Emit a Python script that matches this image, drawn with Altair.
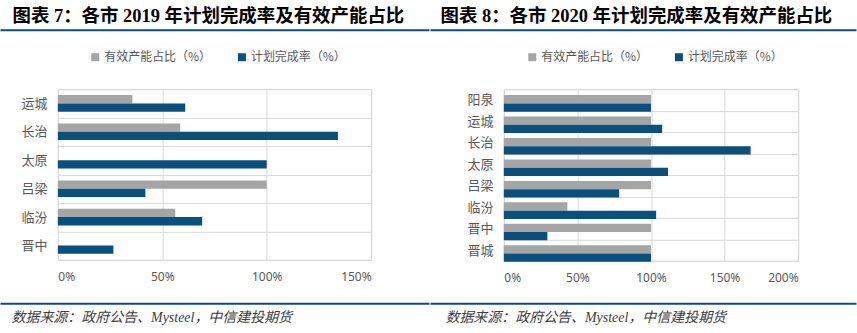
import altair as alt
import pandas as pd

# ---------------- data ----------------
SERIES = ["有效产能占比（%）", "计划完成率（%）"]
SERIES_COLORS = ["#A5A5A5", "#0B4F7C"]

cities_2019 = ["运城", "长治", "太原", "吕梁", "临汾", "晋中"]
capacity_2019 = [35.7, 58.6, 0, 100, 56.2, 0]
completion_2019 = [61.0, 134.1, 100, 41.9, 69.1, 26.6]
ticks_2019 = [0, 50, 100, 150]

cities_2020 = ["阳泉", "运城", "长治", "太原", "吕梁", "临汾", "晋中", "晋城"]
capacity_2020 = [100, 100, 100, 100, 100, 43.2, 100, 100]
completion_2020 = [100, 107.6, 167.7, 111.6, 78.4, 103.5, 29.6, 100]
ticks_2020 = [0, 50, 100, 150, 200]

title_2019 = "图表 7：各市 2019 年计划完成率及有效产能占比"
title_2020 = "图表 8：各市 2020 年计划完成率及有效产能占比"
source_text = "数据来源：政府公告、Mysteel，中信建投期货"

LINE_COLOR = "#0B4F7C"
GRID = "#D9D9D9"
LABEL = "#595959"
CJK = "Noto Sans CJK SC"


def make_panel(cities, capacity, completion, ticks, title, w, h,
               off_pad, ox, span, legend_x, title_x, source_x):
    rows = []
    for c, a, b in zip(cities, capacity, completion):
        rows.append({"city": c, "series": SERIES[0], "value": a})
        rows.append({"city": c, "series": SERIES[1], "value": b})
    df = pd.DataFrame(rows)

    bars = alt.Chart(df).mark_bar().encode(
        y=alt.Y("city:N", sort=cities,
                scale=alt.Scale(paddingInner=0, paddingOuter=0),
                axis=alt.Axis(title=None, grid=True, tickBand="extent",
                              ticks=False, domain=False, gridColor=GRID,
                              labelFont=CJK, labelFontSize=13,
                              labelColor=LABEL, labelPadding=11)),
        x=alt.X("value:Q",
                scale=alt.Scale(domain=[0, ticks[-1]], nice=False),
                axis=alt.Axis(title=None, values=ticks,
                              labelExpr="datum.value + '%'",
                              ticks=False, domain=False, gridColor=GRID,
                              labelFont="Noto Sans", labelFontSize=12,
                              labelColor=LABEL, labelPadding=12)),
        yOffset=alt.YOffset("series:N", sort=SERIES,
                            scale=alt.Scale(paddingInner=0,
                                            paddingOuter=off_pad)),
        color=alt.Color("series:N", sort=SERIES,
                        scale=alt.Scale(domain=SERIES, range=SERIES_COLORS),
                        legend=alt.Legend(orient="none", direction="horizontal",
                                          legendX=legend_x, legendY=-38,
                                          title=None, symbolType="square",
                                          symbolSize=64, symbolStrokeWidth=0,
                                          labelFont=CJK, labelFontSize=12,
                                          labelColor=LABEL, labelOffset=3,
                                          columnPadding=24)),
    )

    title_df = pd.DataFrame({"t": [title]})
    title_mark = alt.Chart(title_df).mark_text(
        align="left", baseline="top", fontSize=18.5, fontWeight="bold",
        font="'Liberation Serif', 'Noto Sans CJK SC'", color="#000000"
    ).encode(text="t:N", x=alt.value(title_x), y=alt.value(-82))

    src_df = pd.DataFrame({"t": [source_text]})
    src_mark = alt.Chart(src_df).mark_text(
        align="left", baseline="middle", fontSize=14, fontStyle="italic",
        font="'Liberation Serif', 'Noto Sans CJK SC'", color="#404040"
    ).encode(text="t:N", x=alt.value(source_x), y=alt.value(229))

    line_df = pd.DataFrame({"k": [0]})
    top_line = alt.Chart(line_df).mark_rect(color=LINE_COLOR).encode(
        x=alt.value(-ox), x2=alt.value(-ox + span),
        y=alt.value(-60), y2=alt.value(-58))
    bottom_line = alt.Chart(line_df).mark_rect(color=LINE_COLOR).encode(
        x=alt.value(-ox), x2=alt.value(-ox + span),
        y=alt.value(214), y2=alt.value(216))

    return alt.layer(bars, title_mark, src_mark, top_line, bottom_line).properties(
        width=w, height=h)


left = make_panel(cities_2019, capacity_2019, completion_2019, ticks_2019,
                  title_2019, 314, 171, 0.72, 57.5, 430, 31.5, -45.5, -46.5)
right = make_panel(cities_2020, capacity_2020, completion_2020, ticks_2020,
                   title_2020, 295, 172, 0.7, 73.5, 427, 22.5, -63.5, -58.5)

chart = alt.hconcat(left, right, spacing=0).properties(
    padding={"left": 0, "top": 6, "right": 0, "bottom": 0},
    background="white",
).configure_view(stroke=GRID, strokeWidth=1).resolve_scale(
    color="independent", y="independent", x="independent")

chart.save("out.html", embed_options={"renderer": "svg", "actions": False})
